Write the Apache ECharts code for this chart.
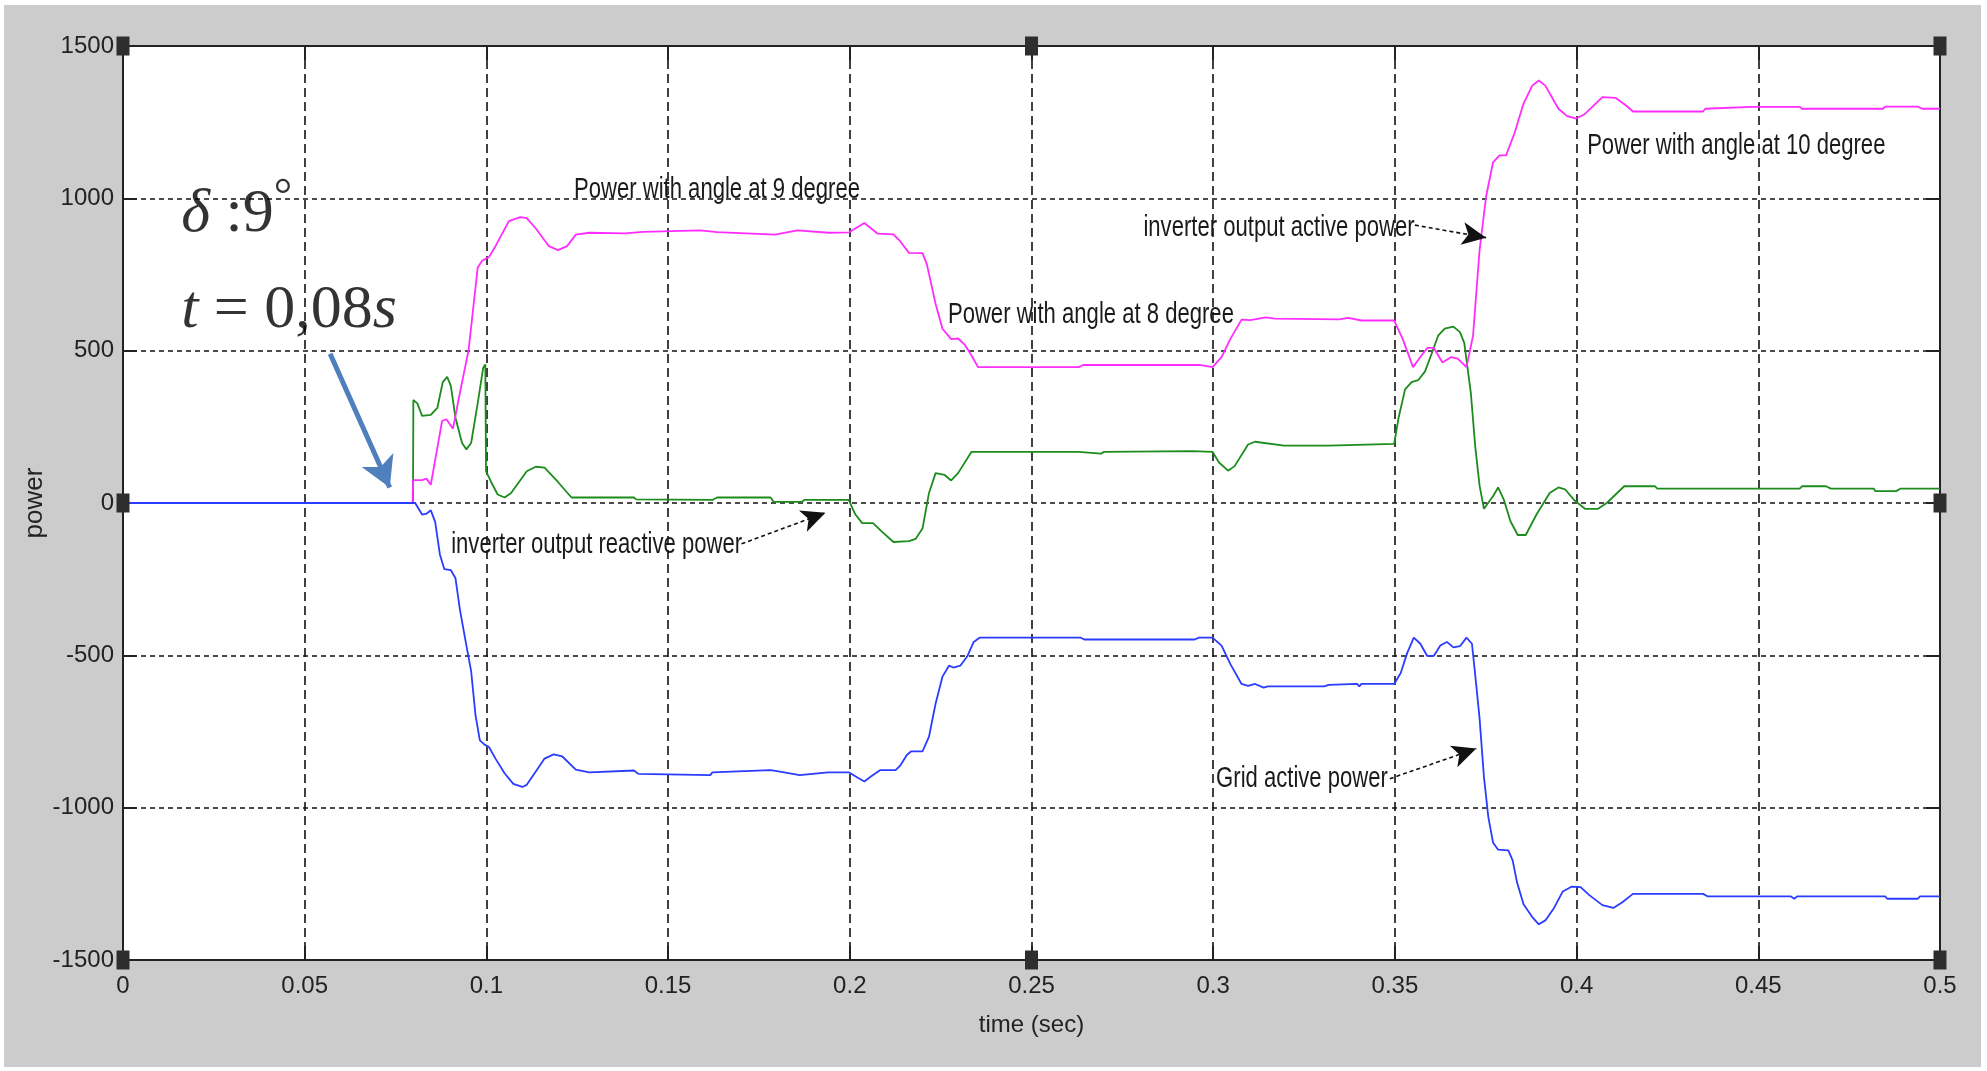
<!DOCTYPE html>
<html><head><meta charset="utf-8">
<script src="https://cdn.jsdelivr.net/npm/echarts@6/dist/echarts.min.js"></script>
<style>
html,body{margin:0;padding:0;background:#fff;width:100%;height:100%;overflow:hidden}
#c{position:absolute;left:4px;top:5px;right:6px;bottom:4px;background:#cccccc}
</style></head><body><div id="c"></div>
<script>
// time (s), power
const inverterActive = [[0,0],[0.0797,0],[0.0798,75],[0.0823,75],[0.0835,80],[0.0847,60],[0.0878,269],[0.0890,275],[0.0908,244],[0.0927,361],[0.0951,502],[0.0976,772],[0.0988,795],[0.1007,807],[0.1025,843],[0.1062,925],[0.1093,938],[0.1111,935],[0.1136,901],[0.1172,843],[0.1197,830],[0.1222,843],[0.1246,881],[0.1283,887],[0.1381,885],[0.1431,890],[0.1588,895],[0.1635,889],[0.1794,881],[0.1856,895],[0.1942,887],[0.1997,888],[0.2040,919],[0.2077,884],[0.2120,882],[0.2138,860],[0.2163,821],[0.2200,820],[0.2212,784],[0.2236,654],[0.2255,572],[0.2279,538],[0.2298,540],[0.2316,520],[0.2335,484],[0.2353,446],[0.2630,446],[0.2642,453],[0.2961,453],[0.2998,446],[0.3023,479],[0.3047,538],[0.3078,602],[0.3102,600],[0.3145,609],[0.3170,605],[0.3347,603],[0.3372,608],[0.3408,599],[0.3498,599],[0.3522,537],[0.3550,446],[0.3570,479],[0.3589,509],[0.3607,509],[0.3631,461],[0.3655,479],[0.3673,474],[0.3697,446],[0.3715,549],[0.3733,830],[0.3751,1006],[0.3770,1118],[0.3788,1141],[0.3806,1141],[0.3830,1217],[0.3854,1311],[0.3878,1370],[0.3896,1387],[0.3914,1370],[0.3950,1294],[0.3974,1270],[0.3999,1262],[0.4023,1277],[0.4071,1332],[0.4107,1330],[0.4137,1304],[0.4155,1285],[0.4348,1285],[0.4354,1294],[0.4481,1300],[0.4614,1300],[0.4620,1294],[0.4843,1294],[0.4849,1301],[0.4939,1301],[0.4951,1294],[0.5,1294]];
const inverterReactive = [[0,0],[0.0798,0],[0.0799,338],[0.0810,327],[0.0823,286],[0.0847,289],[0.0865,312],[0.0880,397],[0.0892,414],[0.0902,385],[0.0915,279],[0.0933,197],[0.0945,176],[0.0958,197],[0.0976,327],[0.0991,443],[0.0997,455],[0.0999,104],[0.1013,69],[0.1031,28],[0.1050,18],[0.1068,33],[0.1111,104],[0.1136,119],[0.1160,116],[0.1197,69],[0.1234,18],[0.1406,18],[0.1412,12],[0.1622,10],[0.1635,18],[0.1782,18],[0.1790,4],[0.1868,4],[0.1875,10],[0.1997,10],[0.2015,-37],[0.2034,-66],[0.2064,-66],[0.2089,-95],[0.2120,-128],[0.2163,-125],[0.2181,-118],[0.2200,-84],[0.2218,33],[0.2236,98],[0.2261,92],[0.2279,74],[0.2298,98],[0.2335,168],[0.2630,168],[0.2635,162],[0.2691,162],[0.2700,168],[0.2943,170],[0.2998,168],[0.3016,133],[0.3041,106],[0.3059,121],[0.3096,192],[0.3115,201],[0.3195,188],[0.3317,188],[0.3320,194],[0.3498,194],[0.3510,279],[0.3528,373],[0.3546,397],[0.3564,403],[0.3583,432],[0.3601,490],[0.3619,549],[0.3637,572],[0.3661,579],[0.3679,561],[0.3691,525],[0.3709,361],[0.3721,186],[0.3733,57],[0.3745,-19],[0.3770,22],[0.3784,51],[0.3800,10],[0.3818,-60],[0.3838,-105],[0.3860,-105],[0.3890,-37],[0.3926,33],[0.3950,51],[0.3968,45],[0.3993,10],[0.4023,-19],[0.4059,-19],[0.4083,0],[0.4131,55],[0.4216,55],[0.4222,47],[0.4614,47],[0.4620,55],[0.4686,55],[0.4700,47],[0.4818,47],[0.4822,39],[0.4879,39],[0.4891,47],[0.5,47]];
const gridActive = [[0,0],[0.0804,0],[0.0823,-38],[0.0835,-35],[0.0847,-24],[0.0859,-62],[0.0872,-169],[0.0884,-217],[0.0902,-220],[0.0915,-247],[0.0927,-349],[0.0945,-468],[0.0958,-552],[0.0970,-696],[0.0982,-779],[0.0995,-793],[0.1007,-801],[0.1025,-839],[0.1050,-887],[0.1074,-922],[0.1099,-932],[0.1111,-925],[0.1136,-881],[0.1160,-839],[0.1185,-825],[0.1209,-832],[0.1246,-875],[0.1283,-884],[0.1406,-878],[0.1418,-889],[0.1616,-893],[0.1622,-884],[0.1782,-877],[0.1800,-880],[0.1862,-893],[0.1940,-884],[0.1997,-884],[0.2021,-901],[0.2040,-914],[0.2058,-898],[0.2083,-877],[0.2126,-877],[0.2138,-863],[0.2157,-827],[0.2169,-815],[0.2200,-815],[0.2218,-767],[0.2236,-659],[0.2255,-570],[0.2273,-534],[0.2285,-540],[0.2304,-534],[0.2323,-504],[0.2341,-456],[0.2357,-442],[0.2636,-442],[0.2645,-448],[0.2949,-448],[0.2961,-442],[0.2998,-442],[0.3023,-468],[0.3047,-528],[0.3078,-594],[0.3096,-600],[0.3115,-594],[0.3139,-606],[0.3150,-602],[0.3305,-602],[0.3318,-597],[0.3396,-594],[0.3402,-602],[0.3408,-594],[0.3498,-594],[0.3516,-558],[0.3534,-492],[0.3552,-442],[0.3570,-462],[0.3589,-502],[0.3607,-502],[0.3625,-468],[0.3643,-456],[0.3661,-474],[0.3679,-470],[0.3697,-442],[0.3712,-462],[0.3721,-564],[0.3733,-707],[0.3745,-899],[0.3757,-1030],[0.3770,-1114],[0.3784,-1138],[0.3812,-1140],[0.3824,-1173],[0.3836,-1245],[0.3854,-1317],[0.3878,-1359],[0.3896,-1383],[0.3914,-1370],[0.3938,-1329],[0.3962,-1275],[0.3987,-1259],[0.4011,-1261],[0.4035,-1287],[0.4071,-1320],[0.4101,-1329],[0.4125,-1311],[0.4155,-1283],[0.4348,-1283],[0.4360,-1291],[0.4589,-1291],[0.4599,-1299],[0.4607,-1291],[0.4849,-1291],[0.4855,-1299],[0.4939,-1299],[0.4945,-1291],[0.5,-1291]];

const xTicks = [0,0.05,0.1,0.15,0.2,0.25,0.3,0.35,0.4,0.45,0.5];
const yTicks = [-1500,-1000,-500,0,500,1000,1500];

// annotation texts: [text, time, power]
const noteTexts = [
  ['Power with angle at 9 degree', 0.1241, 1027],
  ['inverter output reactive power', 0.0903, -138],
  ['Power with angle at 8 degree', 0.2270, 617],
  ['inverter output active power', 0.2808, 903],
  ['Power with angle at 10 degree', 0.4029, 1172],
  ['Grid active power', 0.3008, -906]
];
// annotation arrows: [[t0,p0],[t1,p1]]
const noteArrows = [
  [[0.1702,-134],[0.1933,-32]],
  [[0.3555,912],[0.3751,871]],
  [[0.3486,-905],[0.3724,-806]]
];
const eventArrow = [[0.0570,490],[0.0734,51]];
const bigTexts = [
  ['{i|δ}{r| :9}{d|°}', 0.0160, 945],
  ['{i|t}{r| = 0,08}{i|s}', 0.0160, 630]
];
const handles = [[0,1500],[0.25,1500],[0.5,1500],[0,0],[0.5,0],[0,-1500],[0.25,-1500],[0.5,-1500]];

const SANS = "'Liberation Sans',Arial,Helvetica,sans-serif";
const SERIF = "'Liberation Serif','Times New Roman',serif";
const chart = echarts.init(document.getElementById('c'), null, {renderer:'canvas'});

const xMin = xTicks[0], xMax = xTicks[xTicks.length-1], xStep = xTicks[1]-xTicks[0];
const yMin = yTicks[0], yMax = yTicks[yTicks.length-1], yStep = yTicks[1]-yTicks[0];

const baseX = {type:'value', min:xMin, max:xMax, interval:xStep};
const baseY = {type:'value', min:yMin, max:yMax, interval:yStep};
const frameLine = {show:true, onZero:false, lineStyle:{color:'#222', width:2}};
const frameTick = {show:true, inside:true, length:14, lineStyle:{color:'#222', width:2}};

chart.setOption({
  animation:false,
  backgroundColor:'#cccccc',
  grid:{left:119, right:41, top:41, bottom:107, outerBoundsMode:'none', containLabel:false,
        show:true, backgroundColor:'#ffffff', borderWidth:0},
  xAxis:[
    Object.assign({}, baseX, {
      position:'bottom',
      name:'time (sec)', nameLocation:'middle', nameGap:53, nameMoveOverlap:false,
      nameTextStyle:{fontFamily:SANS, fontSize:24, color:'#222'},
      axisLine:frameLine, axisTick:frameTick,
      axisLabel:{show:true, margin:14, fontFamily:SANS, fontSize:24, color:'#222',
        formatter:v=>String(+v.toFixed(2))},
      splitLine:{show:true, lineStyle:{color:'#111', width:1.6, type:[9,5]}}
    }),
    Object.assign({}, baseX, {
      position:'top', axisLine:frameLine, axisTick:frameTick,
      axisLabel:{show:false}, splitLine:{show:false}
    })
  ],
  yAxis:[
    Object.assign({}, baseY, {
      position:'left',
      name:'power', nameLocation:'middle', nameGap:75, nameRotate:90, nameMoveOverlap:false,
      nameTextStyle:{fontFamily:SANS, fontSize:26, color:'#222'},
      axisLine:frameLine, axisTick:frameTick,
      axisLabel:{show:true, margin:9, fontFamily:SANS, fontSize:24, color:'#222', formatter:v=>String(v)},
      splitLine:{show:true, lineStyle:{color:'#111', width:1.6, type:[5,4]}}
    }),
    Object.assign({}, baseY, {
      position:'right', axisLine:frameLine, axisTick:frameTick,
      axisLabel:{show:false}, splitLine:{show:false}
    })
  ],
  series:[
    {name:'inverter output reactive power', type:'line', data:inverterReactive, showSymbol:false,
     lineStyle:{color:'#1c8c1c', width:1.8}, itemStyle:{color:'#1c8c1c'}, z:3},
    {name:'inverter output active power', type:'line', data:inverterActive, showSymbol:false,
     lineStyle:{color:'#ff2cff', width:1.8}, itemStyle:{color:'#ff2cff'}, z:3},
    {name:'Grid active power', type:'line', data:gridActive, showSymbol:false,
     lineStyle:{color:'#2a3cff', width:1.8}, itemStyle:{color:'#2a3cff'}, z:4,
     markLine:{silent:true, animation:false, symbol:['none','arrow'],
       data:noteArrows.map(a=>[
         {coord:a[0], symbolSize:0},
         {coord:a[1], symbolSize:[17,24]}
       ]).concat([[
         {coord:eventArrow[0], symbolSize:0, lineStyle:{color:'#4f7fbc', width:5, type:'solid'}},
         {coord:eventArrow[1], symbolSize:[26,30], lineStyle:{color:'#4f7fbc', width:5, type:'solid'}, itemStyle:{color:'#4f7fbc'}}
       ]]),
       lineStyle:{color:'#111', width:1.6, type:[4,3]},
       itemStyle:{color:'#111'},
       label:{show:false}
     },
     markPoint:{silent:true, symbol:'rect', symbolSize:[13,19], itemStyle:{color:'#2e2e2e'}, label:{show:false},
       data:handles.map(h=>({coord:h}))}
    },
    {name:'big', type:'scatter', data:bigTexts.map(n=>[n[1],n[2],n[0]]), symbolSize:0, silent:true, z:5,
     label:{show:true, position:'right', distance:0, formatter:p=>p.data[2],
       rich:{
         i:{fontFamily:SERIF, fontStyle:'italic', fontSize:62, color:'#000'},
         r:{fontFamily:SERIF, fontSize:62, color:'#000'},
         d:{fontFamily:SERIF, fontSize:46, color:'#000', verticalAlign:'top', padding:[0,0,34,0]}
       }}}
  ]
});

// annotation texts placed through the chart's own coordinate system
chart.setOption({
  graphic: noteTexts.map(n => {
    const p = chart.convertToPixel({gridIndex:0}, [n[1], n[2]]);
    return {type:'text', x:p[0], y:p[1], scaleX:0.96, scaleY:1.25, silent:true, z:10,
      style:{text:n[0], fontFamily:SANS, fontSize:23, fill:'#1a1a1a', align:'left', verticalAlign:'middle'}};
  })
});
</script></body></html>
